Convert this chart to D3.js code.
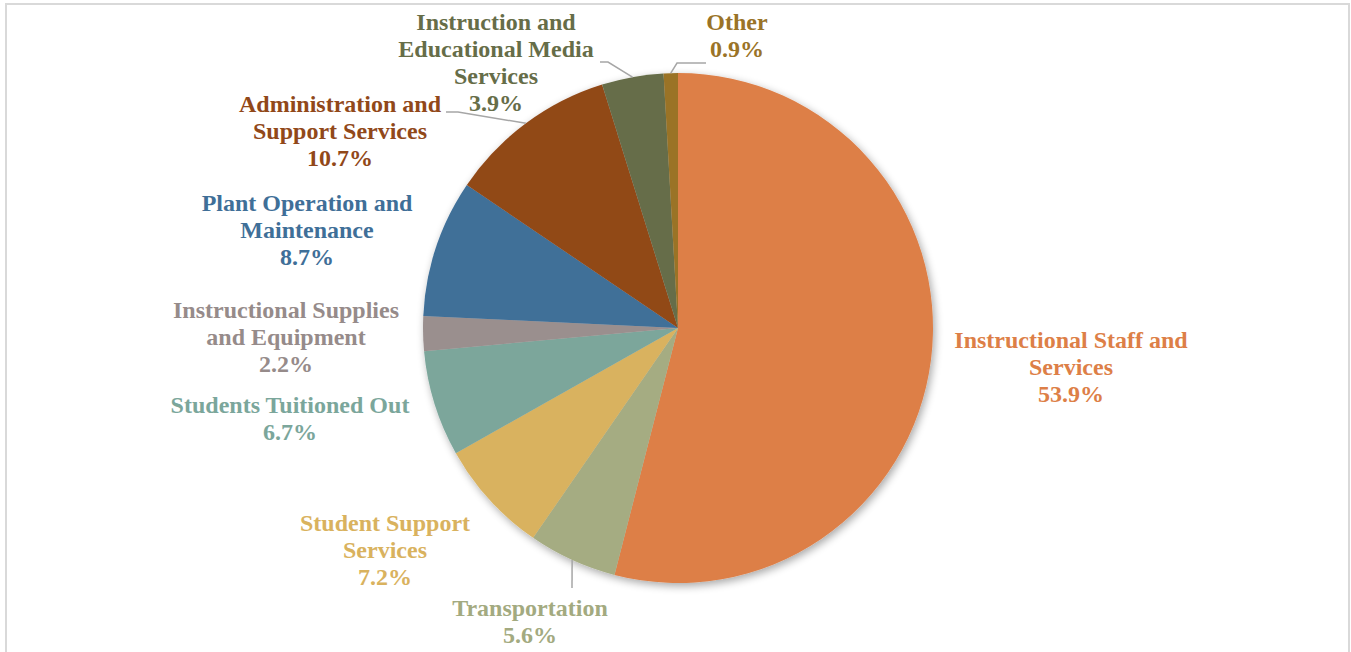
<!DOCTYPE html>
<html>
<head>
<meta charset="utf-8">
<script src="https://cdn.jsdelivr.net/npm/d3@7"></script>
<style>
  body { margin: 0; background: #fff; }
  svg { display: block; }
</style>
</head>
<body>
<svg id="chart" width="1351" height="652"></svg>
<script>
// data
const categories = [
    "Instructional Staff and Services",
    "Transportation",
    "Student Support Services",
    "Students Tuitioned Out",
    "Instructional Supplies and Equipment",
    "Plant Operation and Maintenance",
    "Administration and Support Services",
    "Instruction and Educational Media Services",
    "Other"
];
const shares = [53.9, 5.6, 7.2, 6.7, 2.2, 8.7, 10.7, 3.9, 0.9];
const labelLines = [
    ["Instructional Staff and", "Services"],
    ["Transportation"],
    ["Student Support", "Services"],
    ["Students Tuitioned Out"],
    ["Instructional Supplies", "and Equipment"],
    ["Plant Operation and", "Maintenance"],
    ["Administration and", "Support Services"],
    ["Instruction and", "Educational Media", "Services"],
    ["Other"]
];
const colors = ["#dd7f47", "#a5ac82", "#d9b25e", "#7ba69b", "#9a8f8e", "#3f6f98", "#914819", "#666d48", "#9a7327"];
const textColors = ["#dd7f47", "#a3aa80", "#d9b25e", "#7ba69b", "#968b8a", "#3f6f98", "#914819", "#666d48", "#9a7327"];

// layout
const svg = d3.select("#chart");
const cx = 678, cy = 328, radius = 255;
const lineH = 27;

// label anchors (center x, first baseline y) and leader line bends
const labelLayout = [
    {x: 1071, y: 348},
    {x: 530, y: 616, leader: [[572, 588]]},
    {x: 385, y: 531},
    {x: 290, y: 413},
    {x: 286, y: 318},
    {x: 307, y: 211},
    {x: 340, y: 112, leader: [[458, 112], [446, 112]]},
    {x: 496, y: 30, leader: [[608, 62], [600, 62]]},
    {x: 737, y: 30, leader: [[677, 63], [706, 63]]}
];

// frame
svg.append("rect")
    .attr("x", 6).attr("y", 4)
    .attr("width", 1343).attr("height", 660)
    .attr("fill", "#fff")
    .attr("stroke", "#d9d9d9")
    .attr("stroke-width", 2);

const defs = svg.append("defs");
const filter = defs.append("filter").attr("id", "shadow")
    .attr("x", "-20%").attr("y", "-20%").attr("width", "140%").attr("height", "140%");
filter.append("feGaussianBlur").attr("in", "SourceAlpha").attr("stdDeviation", 4);
filter.append("feOffset").attr("dx", 2).attr("dy", 3).attr("result", "blur");
filter.append("feComponentTransfer").append("feFuncA").attr("type", "linear").attr("slope", 0.35);
const merge = filter.append("feMerge");
merge.append("feMergeNode");
merge.append("feMergeNode").attr("in", "SourceGraphic");

const data = categories.map((c, i) => ({name: c, value: shares[i], lines: labelLines[i], color: colors[i], textColor: textColors[i], layout: labelLayout[i]}));

const pie = d3.pie().sort(null).value(d => d.value);
const arc = d3.arc().innerRadius(0).outerRadius(radius);
const arcs = pie(data);

const g = svg.append("g").attr("transform", `translate(${cx},${cy})`);

g.append("g").attr("filter", "url(#shadow)")
    .selectAll("path")
    .data(arcs)
    .enter()
    .append("path")
    .attr("d", arc)
    .attr("fill", d => d.data.color);

// leader lines
arcs.filter(d => d.data.layout.leader).forEach(d => {
    const mid = (d.startAngle + d.endAngle) / 2;
    const start = [cx + radius * Math.sin(mid), cy - radius * Math.cos(mid)];
    svg.append("polyline")
        .attr("points", [start].concat(d.data.layout.leader).map(p => p.join(",")).join(" "))
        .attr("fill", "none")
        .attr("stroke", "#a6a6a6")
        .attr("stroke-width", 1.5);
});

// labels
const labels = svg.selectAll("text.label")
    .data(arcs)
    .enter()
    .append("text")
    .attr("class", "label")
    .attr("text-anchor", "middle")
    .attr("fill", d => d.data.textColor)
    .style("font-family", "'Liberation Serif', 'Times New Roman', serif")
    .style("font-weight", "bold")
    .style("font-size", "24px");

labels.each(function(d) {
    const t = d3.select(this);
    const L = d.data.layout;
    const lines = d.data.lines.concat([d.data.value.toFixed(1) + "%"]);
    lines.forEach((s, i) => {
        t.append("tspan").attr("x", L.x).attr("y", L.y + i * lineH).text(s);
    });
});
</script>
</body>
</html>
